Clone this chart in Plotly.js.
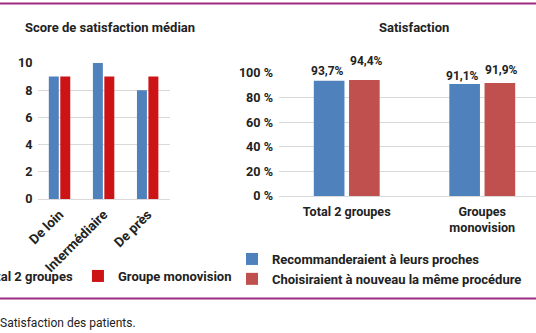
<!DOCTYPE html>
<html><head><meta charset="utf-8">
<script src="https://cdn.plot.ly/plotly-3.0.1.min.js"></script>
<style>html,body{margin:0;padding:0;background:#fff;}#c{width:536px;height:333px;}</style>
</head><body><div id="c"></div>
<script>
// Left chart: median satisfaction score
const scoreCategories = ["De loin", "Intermédiaire", "De près"];
const scoreTotal = [9, 10, 8];
const scoreMono = [9, 9, 9];
const scoreSeriesNames = ["Total 2 groupes", "Groupe monovision"];
const scoreTicks = [0, 2, 4, 6, 8, 10];

// Right chart: satisfaction percentages
const satCategories = ["Total 2 groupes", "Groupes<br>monovision"];
const satRecommend = [93.7, 91.1];
const satChoose = [94.4, 91.9];
const satSeriesNames = ["Recommanderaient à leurs proches", "Choisiraient à nouveau la même procédure"];
const satTicks = [0, 20, 40, 60, 80, 100];
const satTickText = ["0 %", "20 %", "40 %", "60 %", "80 %", "100 %"];

// label lift (px) above each bar, as placed in the original
const liftRecommend = [1, -1];
const liftChoose = [10, 4];

const W = 536, H = 333, MB = 80;
const PH = H - MB;
const px = v => v / W, py = v => 1 - v / PH;
const FAM = "Roboto, 'DejaVu Sans', sans-serif";
const FONT = {family: FAM, size: 13, color: "#222", weight: 700};
const TICKF = {family: FAM, size: 12.6, color: "#222", weight: 700};
const XTICKF = {family: FAM, size: 13.5, color: "#222", weight: 700};
const VALF = {family: FAM, size: 12, color: "#222", weight: 700};
const BLUE = "#4f81bd", RED_L = "#cc1417", RED_R = "#c0504d";
const fmt = v => v.toFixed(1).replace(".", ",") + "%";

const traces = [
  {type: "bar", x: scoreCategories, y: scoreTotal, name: scoreSeriesNames[0], marker: {color: BLUE}, xaxis: "x", yaxis: "y", legend: "legend"},
  {type: "bar", x: scoreCategories, y: scoreMono, name: scoreSeriesNames[1], marker: {color: RED_L}, xaxis: "x", yaxis: "y", legend: "legend"},
  {type: "bar", x: satCategories, y: satRecommend, name: satSeriesNames[0], marker: {color: BLUE}, xaxis: "x2", yaxis: "y2", legend: "legend2"},
  {type: "bar", x: satCategories, y: satChoose, name: satSeriesNames[1], marker: {color: RED_R}, xaxis: "x2", yaxis: "y2", legend: "legend2"}
];

const valueAnnotations = [];
satCategories.forEach((c, i) => {
  valueAnnotations.push({xref: "x2", yref: "y2", x: c, y: satRecommend[i], text: fmt(satRecommend[i]), showarrow: false, xanchor: "center", yanchor: "bottom", xshift: -19.5, yshift: liftRecommend[i], font: VALF});
  valueAnnotations.push({xref: "x2", yref: "y2", x: c, y: satChoose[i], text: fmt(satChoose[i]), showarrow: false, xanchor: "center", yanchor: "bottom", xshift: 19.5, yshift: liftChoose[i], font: VALF});
});

const layout = {
  width: W, height: H,
  margin: {l: 0, r: 0, t: 0, b: MB, autoexpand: false},
  paper_bgcolor: "#fff", plot_bgcolor: "rgba(0,0,0,0)",
  font: FONT,
  barmode: "group", bargap: 0.48, bargroupgap: 0.13,
  showlegend: true,
  hovermode: false,
  xaxis: {domain: [px(37.5), px(169.7)], anchor: "y", type: "category", tickangle: -45, ticks: "", showline: false, showgrid: false, zeroline: false, tickfont: XTICKF, ticklabelstandoff: 4, automargin: false},
  yaxis: {domain: [py(199), py(63)], anchor: "x", range: [0, 10], tickvals: scoreTicks, showgrid: true, gridcolor: "#d9d9d9", gridwidth: 1, zeroline: true, zerolinecolor: "#d9d9d9", showline: false, ticks: "", ticklabelstandoff: 4, tickfont: TICKF, automargin: false},
  xaxis2: {domain: [px(279), 1], anchor: "y2", type: "category", range: [-0.5, -0.5 + (536 - 279) / 135.5], ticks: "", showline: false, showgrid: false, zeroline: false, tickfont: TICKF, ticklabelstandoff: 6, automargin: false},
  yaxis2: {domain: [py(196), py(73)], anchor: "x2", range: [0, 100], tickvals: satTicks, ticktext: satTickText, showgrid: true, gridcolor: "#d9d9d9", zeroline: true, zerolinecolor: "#d9d9d9", showline: false, ticks: "", ticklabelstandoff: 5, tickfont: TICKF, automargin: false},
  legend: {orientation: "h", x: px(-58), y: py(261), xanchor: "left", yanchor: "top", font: FONT, tracegroupgap: 0, bgcolor: "rgba(0,0,0,0)"},
  legend2: {orientation: "v", x: px(232), y: py(244), xanchor: "left", yanchor: "top", font: FONT, bgcolor: "rgba(0,0,0,0)", tracegroupgap: 0},
  annotations: [
    {xref: "paper", yref: "paper", x: px(110), y: py(27), text: "Score de satisfaction médian", showarrow: false, xanchor: "center", yanchor: "middle", font: FONT},
    {xref: "paper", yref: "paper", x: px(414), y: py(27), text: "Satisfaction", showarrow: false, xanchor: "center", yanchor: "middle", font: FONT},
    {xref: "paper", yref: "paper", x: 0, y: py(323), text: "Satisfaction des patients.", showarrow: false, xanchor: "left", yanchor: "middle", xshift: -2, font: {family: FAM, size: 12, color: "#222", weight: 400}}
  ].concat(valueAnnotations),
  shapes: [
    {type: "line", xref: "paper", yref: "paper", x0: 0, x1: 1, y0: py(3.5), y1: py(3.5), line: {color: "#9e2a82", width: 2}},
    {type: "line", xref: "paper", yref: "paper", x0: 0, x1: 1, y0: py(298.5), y1: py(298.5), line: {color: "#9e2a82", width: 2}}
  ]
};

Plotly.newPlot("c", traces, layout, {staticPlot: true, displayModeBar: false});
</script></body></html>
